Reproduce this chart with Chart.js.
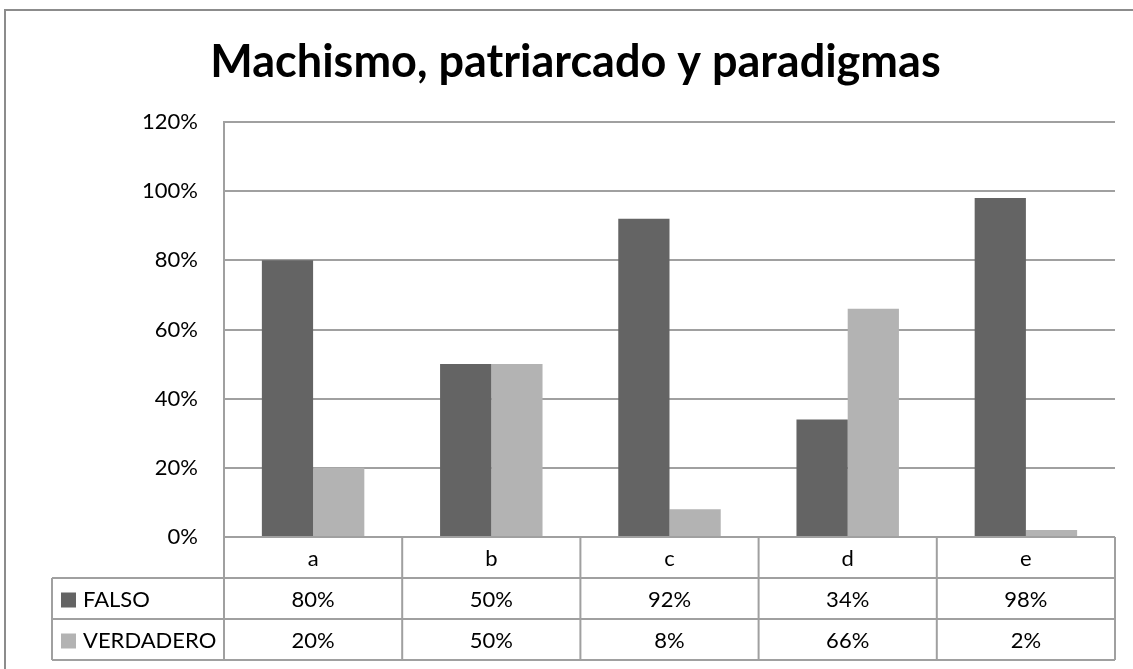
<!DOCTYPE html>
<html>
<head>
<meta charset="utf-8">
<script src="https://cdn.jsdelivr.net/npm/chart.js@4"></script>
<style>
  html, body { margin: 0; padding: 0; background: #fff; }
  #wrap { width: 1133px; height: 669px; }
</style>
</head>
<body>
<div id="wrap"><canvas id="myChart"></canvas></div>
<script>
const categories = ["a", "b", "c", "d", "e"];
const falso = [80, 50, 92, 34, 98];
const verdadero = [20, 50, 8, 66, 2];
const tickValues = [0, 20, 40, 60, 80, 100, 120];

const gridGrey = "#a0a0a0";
const font = "Lato";

// outer frame of the chart, like the excel chart border
const framePlugin = {
  id: "frame",
  beforeDraw(chart) {
    const ctx = chart.ctx;
    ctx.save();
    ctx.strokeStyle = "#8c8c8c";
    ctx.lineWidth = 2;
    ctx.strokeRect(5, 10, 1160, 700);
    ctx.restore();
  }
};

// data table under the plot, column edges come from the x scale
const tablePlugin = {
  id: "dataTable",
  afterDraw(chart) {
    const ctx = chart.ctx;
    const area = chart.chartArea;
    const x = chart.scales.x;
    const rowH = 41;
    const top = area.bottom;
    const legendLeft = 52;
    const half = (x.getPixelForValue(1) - x.getPixelForValue(0)) / 2;
    const edges = categories.map((c, i) => x.getPixelForValue(i) - half);
    edges.push(x.getPixelForValue(categories.length - 1) + half);

    ctx.save();
    ctx.strokeStyle = gridGrey;
    ctx.lineWidth = 2;
    ctx.beginPath();
    // horizontal lines
    ctx.moveTo(edges[0], top); ctx.lineTo(edges[edges.length - 1], top);
    ctx.moveTo(legendLeft, top + rowH); ctx.lineTo(edges[edges.length - 1], top + rowH);
    ctx.moveTo(legendLeft, top + 2 * rowH); ctx.lineTo(edges[edges.length - 1], top + 2 * rowH);
    ctx.moveTo(legendLeft, top + 3 * rowH); ctx.lineTo(edges[edges.length - 1], top + 3 * rowH);
    // vertical lines
    ctx.moveTo(legendLeft, top + rowH); ctx.lineTo(legendLeft, top + 3 * rowH);
    edges.forEach(e => { ctx.moveTo(e, top); ctx.lineTo(e, top + 3 * rowH); });
    ctx.stroke();

    ctx.fillStyle = "#000";
    ctx.font = "22px " + font;
    ctx.textAlign = "center";
    ctx.textBaseline = "middle";
    categories.forEach((c, i) => {
      ctx.fillText(c, x.getPixelForValue(i), top + rowH / 2 + 1);
    });
    chart.data.datasets.forEach((ds, r) => {
      const cy = top + rowH * (r + 1) + rowH / 2 + 1;
      ds.data.forEach((v, i) => {
        ctx.fillStyle = "#000";
        ctx.textAlign = "center";
        ctx.fillText(v + "%", x.getPixelForValue(i), cy);
      });
      ctx.fillStyle = ds.backgroundColor;
      ctx.fillRect(61, cy - 7, 15, 15);
      ctx.fillStyle = "#000";
      ctx.textAlign = "left";
      ctx.fillText(ds.label, 83, cy);
    });
    ctx.restore();
  }
};

new Chart(document.getElementById("myChart"), {
  type: "bar",
  data: {
    labels: categories,
    datasets: [
      { label: "FALSO", data: falso, backgroundColor: "#646464" },
      { label: "VERDADERO", data: verdadero, backgroundColor: "#b3b3b3" }
    ]
  },
  options: {
    responsive: true,
    maintainAspectRatio: false,
    animation: false,
    layout: { padding: { left: 36, right: 18, top: 10, bottom: 132 } },
    datasets: { bar: { categoryPercentage: 0.575, barPercentage: 1 } },
    plugins: {
      legend: { display: false },
      tooltip: { enabled: false },
      title: {
        display: true,
        text: "Machismo, patriarcado y paradigmas",
        color: "#000",
        font: { family: font, size: 45, weight: "bold" },
        padding: { top: 25, bottom: 33 }
      }
    },
    scales: {
      x: { display: false },
      y: {
        min: 0,
        max: 120,
        afterFit: s => { s.width = 188; },
        afterBuildTicks: s => { s.ticks = tickValues.map(v => ({ value: v })); },
        border: { display: true, color: gridGrey, width: 2 },
        grid: { color: gridGrey, lineWidth: 2, drawTicks: false },
        ticks: {
          color: "#000",
          padding: 26,
          font: { family: font, size: 22 },
          callback: v => v + "%"
        }
      }
    }
  },
  plugins: [framePlugin, tablePlugin]
});
</script>
</body>
</html>
